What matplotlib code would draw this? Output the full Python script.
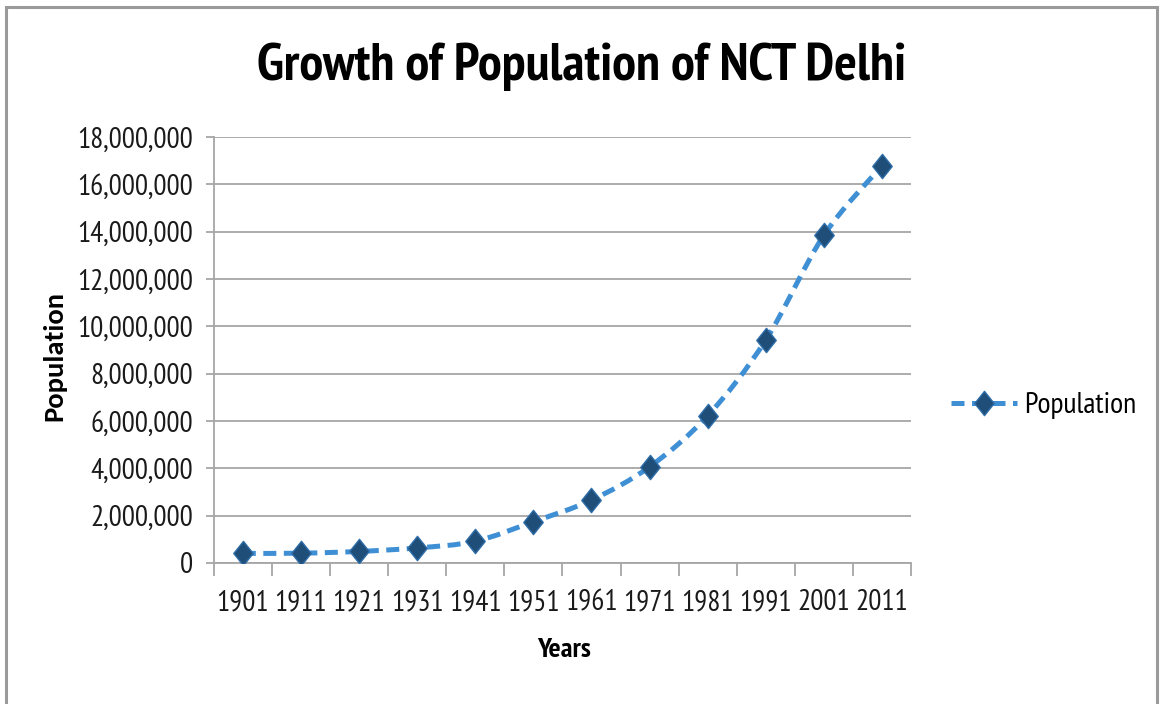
import numpy as np
import matplotlib
matplotlib.use("Agg")
import matplotlib.pyplot as plt
from matplotlib.path import Path
from matplotlib.patches import PathPatch, Rectangle
from matplotlib.lines import Line2D
from matplotlib.ticker import FuncFormatter, MultipleLocator

# census population of NCT Delhi
years = ["1901", "1911", "1921", "1931", "1941", "1951",
         "1961", "1971", "1981", "1991", "2001", "2011"]
population = [405819, 413851, 488452, 636246, 917939, 1744072,
              2658612, 4065698, 6220406, 9420644, 13850507, 16787941]

NARROW = ["PT Sans Narrow", "DejaVu Sans"]
LINE_COL = "#3F8FD5"
MARK_COL = "#1F4E79"
GRID_COL = "#A6A6A6"

# tall diamond marker
diamond = Path([(0, 1), (0.8, 0), (0, -1), (-0.8, 0), (0, 1)],
               [Path.MOVETO, Path.LINETO, Path.LINETO, Path.LINETO, Path.CLOSEPOLY])


def smooth_path(x, y):
    # cubic bezier through every point, catmull-rom style control points
    pts = np.column_stack([x, y]).astype(float)
    n = len(pts)
    verts = [pts[0]]
    codes = [Path.MOVETO]
    for i in range(n - 1):
        p0 = pts[i - 1] if i > 0 else pts[i]
        p1, p2 = pts[i], pts[i + 1]
        p3 = pts[i + 2] if i + 2 < n else pts[i + 1]
        c1 = p1 + (p2 - p0) / 6
        c2 = p2 - (p3 - p1) / 6
        verts += [c1, c2, p2]
        codes += [Path.CURVE4] * 3
    return Path(verts, codes)


fig = plt.figure(figsize=(11.65, 7.04), dpi=100)
ax = fig.add_axes([0.1835, 0.2003, 0.5985, 0.6051])

x = np.arange(len(years))
curve = PathPatch(smooth_path(x, population), fill=False, edgecolor=LINE_COL,
                  lw=3.6, linestyle=(0, (2.6, 1.5)), capstyle="butt", zorder=3)
ax.add_patch(curve)
ax.plot(x, population, linestyle="none", marker=diamond, markersize=17.5,
        markerfacecolor=MARK_COL, markeredgecolor="#2E6DA8", markeredgewidth=1,
        zorder=4)

ax.set_xlim(-0.5, len(years) - 0.5)
ax.set_ylim(0, 18000000)
ax.yaxis.set_major_locator(MultipleLocator(2000000))
ax.yaxis.set_major_formatter(FuncFormatter(lambda v, p: f"{int(v):,}"))
ax.grid(axis="y", color=GRID_COL, lw=1.3)
ax.set_axisbelow(True)

ax.set_xticks(x)
ax.set_xticklabels(years)
ax.set_xticks(np.arange(-0.5, len(years)), minor=True)
ax.tick_params(axis="x", which="major", length=0, pad=19)
ax.tick_params(axis="x", which="minor", length=9, color=GRID_COL, width=1.3)
ax.tick_params(axis="y", length=6, color=GRID_COL, width=1.3, pad=9)
for lab in ax.get_xticklabels() + ax.get_yticklabels():
    lab.set_family(NARROW)
    lab.set_fontsize(21)
    lab.set_color("#1a1a1a")

for side in ("top", "right"):
    ax.spines[side].set_visible(False)
for side in ("left", "bottom"):
    ax.spines[side].set_color(GRID_COL)
    ax.spines[side].set_linewidth(1.3)

fig.text(0.499, 0.905, "Growth of Population of NCT Delhi", ha="center", va="center",
         fontsize=38.5, fontweight="bold", family=NARROW)
fig.text(0.047, 0.495, "Population", rotation=90, ha="center", va="center",
         fontsize=20.5, fontweight="bold", family=["Carlito", "DejaVu Sans"])
fig.text(0.484, 0.076, "Years", ha="center", va="center",
         fontsize=20.5, fontweight="bold", family=NARROW)

handle = Line2D([], [], color=LINE_COL, lw=3.6, linestyle=(0, (2.6, 1.5)),
                marker=diamond, markersize=17.5, markerfacecolor=MARK_COL,
                markeredgecolor="#2E6DA8")
fig.legend([handle], ["Population"], loc="center left",
           bbox_to_anchor=(0.8165, 0.424), frameon=False, handlelength=2.2,
           handletextpad=0.25, borderaxespad=0, borderpad=0,
           prop={"family": NARROW, "size": 21.5})

# outer chart frame
fig.add_artist(Rectangle((0.0055, -0.02), 0.988, 1.01, transform=fig.transFigure,
                         fill=False, edgecolor="#9A9A9A", lw=2.2, clip_on=False))

fig.savefig("out.png", dpi=100)
